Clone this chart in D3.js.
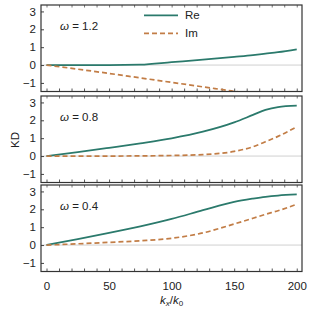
<!DOCTYPE html>
<html>
<head>
<meta charset="utf-8">
<script src="https://cdn.jsdelivr.net/npm/d3@7"></script>
<style>
	body { margin: 0; background: #fff; }
	text { font-family: 'Liberation Sans', Arial, sans-serif; }
</style>
</head>
<body>
<div class="chart"></div>
<script>
// KD vs kx/k0 for three omegas
const kx = [0, 25, 50, 75, 100, 125, 150, 165, 175, 185, 200]
const omegas = ['1.2', '0.8', '0.4']
const reVals = [
	[0, 0, 0, 0.02, 0.16, 0.3, 0.46, 0.56, 0.64, 0.72, 0.88],
	[0, 0.22, 0.46, 0.71, 0.99, 1.36, 1.88, 2.3, 2.58, 2.74, 2.82],
	[0, 0.33, 0.68, 1.05, 1.46, 1.95, 2.42, 2.6, 2.7, 2.77, 2.83]
]
const imVals = [
	[0, -0.23, -0.47, -0.72, -0.97, -1.22, -1.47, -1.62, -1.72, -1.82, -1.97],
	[0, 0, 0, 0.01, 0.03, 0.08, 0.26, 0.52, 0.8, 1.1, 1.64],
	[0, 0.07, 0.15, 0.24, 0.38, 0.68, 1.18, 1.5, 1.72, 1.92, 2.28]
]
const xTicks = [0, 50, 100, 150, 200]
const yTicks = [-1, 0, 1, 2, 3]
const seriesNames = ['Re', 'Im']

const W = 313, H = 313
const left = 41, right = 302
const panelTops = [5, 96, 185]
const panelH = 86.5

const svg = d3.select('.chart')
	.append('svg')
	.attr('width', W)
	.attr('height', H)

const xScale = d3.scaleLinear()
	.domain([-4.4, 204.2])
	.range([left, right])

const reColor = '#2b7a6c'
const imColor = '#c27d46'

omegas.forEach((om, i) => {
	const top = panelTops[i]
	const yScale = d3.scaleLinear()
		.domain([-1.48, 3.36])
		.range([top + panelH, top])

	const g = svg.append('g')

	g.append('clipPath')
		.attr('id', 'clip' + i)
		.append('rect')
		.attr('x', left)
		.attr('y', top)
		.attr('width', right - left)
		.attr('height', panelH)

	// zero line
	g.append('line')
		.attr('x1', left).attr('x2', right)
		.attr('y1', yScale(0)).attr('y2', yScale(0))
		.attr('stroke', '#d0d0d0')
		.attr('stroke-width', 1)

	// axes
	const yAxis = d3.axisLeft(yScale)
		.tickValues(yTicks)
		.tickSize(-3)
		.tickPadding(5)
		.tickFormat(d => d < 0 ? '\u2212' + Math.abs(d) : d)
	g.append('g')
		.attr('transform', `translate(${left},0)`)
		.call(yAxis)
		.call(a => a.select('.domain').remove())
		.call(a => a.selectAll('text').attr('font-size', 11.5).attr('fill', '#222'))
		.call(a => a.selectAll('line').attr('stroke', '#444'))

	const minor = d3.range(0, 201, 10)
	const xb = d3.axisBottom(xScale).tickValues(minor).tickSize(-3).tickFormat('')
	g.append('g')
		.attr('transform', `translate(0,${top + panelH})`)
		.call(xb)
		.call(a => a.select('.domain').remove())
		.call(a => a.selectAll('line').attr('stroke', '#555'))
	const xt = d3.axisTop(xScale).tickValues(minor).tickSize(-2.5).tickFormat('')
	g.append('g')
		.attr('transform', `translate(0,${top})`)
		.call(xt)
		.call(a => a.select('.domain').remove())
		.call(a => a.selectAll('line').attr('stroke', '#777'))

	if (i === 2) {
		g.append('g')
			.attr('transform', `translate(0,${top + panelH})`)
			.call(d3.axisBottom(xScale).tickValues(xTicks).tickSize(0).tickPadding(10))
			.call(a => a.select('.domain').remove())
			.call(a => a.selectAll('text').attr('font-size', 11.5).attr('fill', '#222'))
	}

	const line = d3.line()
		.x((d, j) => xScale(kx[j]))
		.y(d => yScale(d))
		.curve(d3.curveMonotoneX)

	g.append('path')
		.datum(reVals[i])
		.attr('d', line)
		.attr('fill', 'none')
		.attr('stroke', reColor)
		.attr('stroke-width', 1.8)
		.attr('clip-path', `url(#clip${i})`)

	g.append('path')
		.datum(imVals[i])
		.attr('d', line)
		.attr('fill', 'none')
		.attr('stroke', imColor)
		.attr('stroke-width', 1.7)
		.attr('stroke-dasharray', '5,3')
		.attr('clip-path', `url(#clip${i})`)

	// frame
	g.append('rect')
		.attr('x', left).attr('y', top)
		.attr('width', right - left).attr('height', panelH)
		.attr('fill', 'none')
		.attr('stroke', '#333')
		.attr('stroke-width', 1.2)

	// omega label
	g.append('text')
		.attr('x', 60)
		.attr('y', top + 25)
		.attr('font-size', 11.5)
		.attr('fill', '#222')
		.html('<tspan font-style="italic">\u03c9</tspan> = ' + om)
})

// legend
const legend = svg.append('g')
seriesNames.forEach((name, i) => {
	const y = 15.3 + i * 18
	legend.append('line')
		.attr('x1', 144).attr('x2', 178)
		.attr('y1', y).attr('y2', y)
		.attr('stroke', i === 0 ? reColor : imColor)
		.attr('stroke-width', i === 0 ? 1.8 : 1.7)
		.attr('stroke-dasharray', i === 0 ? null : '5,3')
	legend.append('text')
		.attr('x', 185)
		.attr('y', y + 4)
		.attr('font-size', 11.5)
		.attr('fill', '#222')
		.text(name)
})

// y-axis label
svg.append('text')
	.attr('transform', 'translate(19,140) rotate(-90)')
	.attr('text-anchor', 'middle')
	.attr('font-size', 11.5)
	.attr('fill', '#222')
	.text('KD')

// x-axis label
svg.append('text')
	.attr('x', 171.5)
	.attr('y', 304)
	.attr('text-anchor', 'middle')
	.attr('font-size', 11.5)
	.attr('fill', '#222')
	.html('<tspan font-style="italic">k</tspan><tspan font-style="italic" font-size="8" dy="2">x</tspan><tspan dy="-2">/</tspan><tspan font-style="italic">k</tspan><tspan font-size="8" dy="2">0</tspan>')
</script>
</body>
</html>
